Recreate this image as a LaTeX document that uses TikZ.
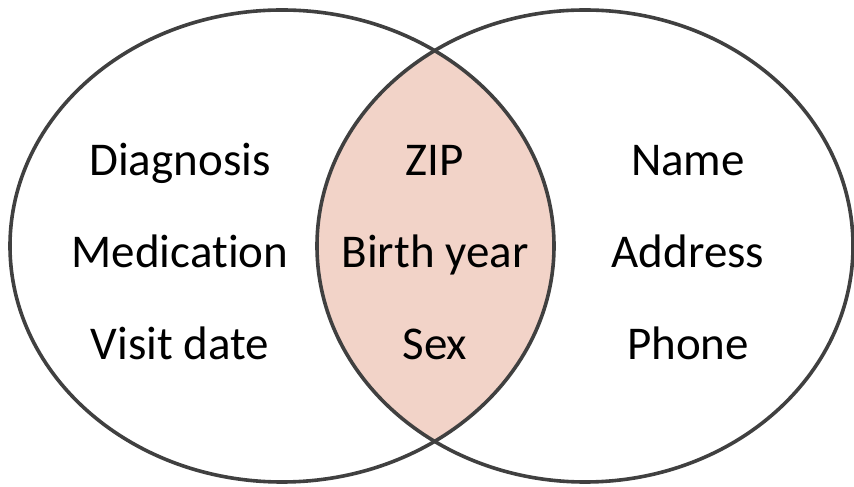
\documentclass[tikz,border=0pt]{standalone}
\usepackage{fontspec}
\setmainfont{Carlito}[Ligatures=NoCommon]
\definecolor{edge}{HTML}{404040}
\definecolor{lens}{HTML}{F2D3C8}
\begin{document}
\begin{tikzpicture}[x=1pt,y=1pt,
  setline/.style={draw=edge,line width=3.6pt},
  label/.style={font=\fontsize{47}{47}\selectfont,anchor=base}]
\useasboundingbox (0,0) rectangle (854,487);
% shared region of the two sets
\begin{scope}
  \clip (282,241) ellipse [x radius=272, y radius=236];
  \fill[lens] (585,241) ellipse [x radius=268, y radius=236];
\end{scope}
% set outlines
\draw[setline] (282,241) ellipse [x radius=272, y radius=236];
\draw[setline] (585,241) ellipse [x radius=268, y radius=236];
% left set
\node[label] (diag) at (180,311) {Diagnosis};
\node[label] (med)  at (180,219) {Medication};
\node[label] (visit) at (180,127) {Visit date};
% shared attributes
\node[label] (zip)  at (435,311) {ZIP};
\node[label] (birth) at (435,219) {Birth year};
\node[label] (sex)  at (435,127) {Sex};
% right set
\node[label] (name) at (688,311) {Name};
\node[label] (addr) at (688,219) {Address};
\node[label] (phone) at (688,127) {Phone};
\end{tikzpicture}
\end{document}
